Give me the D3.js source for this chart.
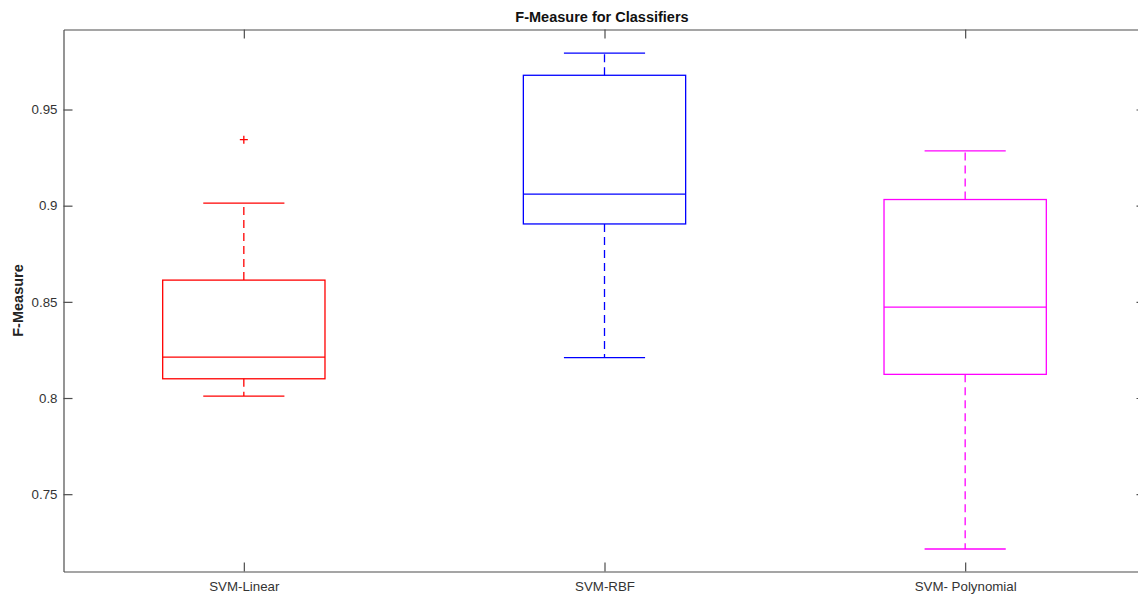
<!DOCTYPE html>
<html>
<head>
<meta charset="utf-8">
<script src="https://cdn.jsdelivr.net/npm/d3@7"></script>
<style>
  body { margin: 0; background: #fff; }
  text { font-family: "Liberation Sans", Arial, sans-serif; }
</style>
</head>
<body>
<div id="chart"></div>
<script>
// classifier names and box stats
var classifiers = ["SVM-Linear", "SVM-RBF", "SVM- Polynomial"];
var whiskerLow = [0.801, 0.821, 0.7215];
var q1 = [0.810, 0.8905, 0.8123];
var medians = [0.8213, 0.906, 0.8473];
var q3 = [0.8613, 0.9678, 0.9032];
var whiskerHigh = [0.9013, 0.9793, 0.9285];
var outliers = [[0.9343], [], []];
var boxColors = ["#ff0000", "#0000ff", "#ff00ff"];
var yTicks = [0.75, 0.8, 0.85, 0.9, 0.95];

var w = 1138;
var h = 596;
// plot box edges (the right edge falls just off the window, as in the picture)
var plotLeft = 63.5, plotTop = 29.5, plotBottom = 571.5, plotRight = 1145.5;

var svg = d3.select("#chart")
    .append("svg")
    .attr("width", w)
    .attr("height", h);

var xScale = d3.scaleLinear()
    .domain([0.5, 3.5])
    .range([plotLeft, plotRight]);

var yScale = d3.scaleLinear()
    .domain([0.7098, 0.9916])
    .range([plotBottom, plotTop]);

var boxHalf = xScale(1.225) - xScale(1);
var capHalf = boxHalf / 2;

// title
svg.append("text")
    .attr("x", 602)
    .attr("y", 22)
    .attr("text-anchor", "middle")
    .attr("font-size", "14.5px")
    .attr("font-weight", "bold")
    .attr("fill", "#111")
    .text("F-Measure for Classifiers");

// y label
svg.append("text")
    .attr("transform", "translate(23," + ((plotTop + plotBottom) / 2) + ") rotate(-90)")
    .attr("text-anchor", "middle")
    .attr("font-size", "14.5px")
    .attr("font-weight", "bold")
    .attr("fill", "#222")
    .text("F-Measure");

// axes (box on, ticks inward)
var axisColor = "#4d4d4d";
var tickLen = 9;

var yLeft = d3.axisLeft(yScale)
    .tickValues(yTicks)
    .tickFormat(function (d) { return String(+d.toFixed(2)); })
    .tickSizeInner(-tickLen)
    .tickSizeOuter(0)
    .tickPadding(6);

svg.append("g")
    .attr("class", "y axis")
    .attr("transform", "translate(" + plotLeft + ",0)")
    .call(yLeft);

var yRight = d3.axisRight(yScale)
    .tickValues(yTicks)
    .tickFormat("")
    .tickSizeInner(-tickLen)
    .tickSizeOuter(0);

svg.append("g")
    .attr("class", "y axis")
    .attr("transform", "translate(" + plotRight + ",0)")
    .call(yRight);

var xBottom = d3.axisBottom(xScale)
    .tickValues([1, 2, 3])
    .tickFormat(function (d) { return classifiers[d - 1]; })
    .tickSizeInner(-tickLen)
    .tickSizeOuter(0)
    .tickPadding(10);

svg.append("g")
    .attr("class", "x axis")
    .attr("transform", "translate(0," + plotBottom + ")")
    .call(xBottom);

var xTop = d3.axisTop(xScale)
    .tickValues([1, 2, 3])
    .tickFormat("")
    .tickSizeInner(-tickLen)
    .tickSizeOuter(0);

svg.append("g")
    .attr("class", "x axis")
    .attr("transform", "translate(0," + plotTop + ")")
    .call(xTop);

svg.selectAll(".axis path, .axis line")
    .attr("stroke", axisColor)
    .attr("stroke-width", 1.2);

svg.selectAll(".axis text")
    .attr("font-size", "13.3px")
    .attr("fill", "#333")
    .attr("font-family", "Liberation Sans, Arial, sans-serif");

// boxes
var boxes = classifiers.map(function (name, i) {
    return {
        idx: i + 1,
        lo: whiskerLow[i], q1: q1[i], med: medians[i], q3: q3[i], hi: whiskerHigh[i],
        out: outliers[i], color: boxColors[i]
    };
});

var g = svg.selectAll("g.box")
    .data(boxes)
    .enter()
    .append("g")
    .attr("class", "box")
    .attr("stroke", function (d) { return d.color; })
    .attr("stroke-width", 1.3)
    .attr("fill", "none");

// dashed whiskers
g.append("line")
    .attr("x1", function (d) { return xScale(d.idx); })
    .attr("x2", function (d) { return xScale(d.idx); })
    .attr("y1", function (d) { return yScale(d.q3); })
    .attr("y2", function (d) { return yScale(d.hi); })
    .attr("stroke-dasharray", "8,5");

g.append("line")
    .attr("x1", function (d) { return xScale(d.idx); })
    .attr("x2", function (d) { return xScale(d.idx); })
    .attr("y1", function (d) { return yScale(d.q1); })
    .attr("y2", function (d) { return yScale(d.lo); })
    .attr("stroke-dasharray", "8,5");

// caps
["hi", "lo"].forEach(function (k) {
    g.append("line")
        .attr("x1", function (d) { return xScale(d.idx) - capHalf; })
        .attr("x2", function (d) { return xScale(d.idx) + capHalf; })
        .attr("y1", function (d) { return yScale(d[k]); })
        .attr("y2", function (d) { return yScale(d[k]); });
});

// box
g.append("rect")
    .attr("x", function (d) { return xScale(d.idx) - boxHalf; })
    .attr("width", boxHalf * 2)
    .attr("y", function (d) { return yScale(d.q3); })
    .attr("height", function (d) { return yScale(d.q1) - yScale(d.q3); });

// median
g.append("line")
    .attr("x1", function (d) { return xScale(d.idx) - boxHalf; })
    .attr("x2", function (d) { return xScale(d.idx) + boxHalf; })
    .attr("y1", function (d) { return yScale(d.med); })
    .attr("y2", function (d) { return yScale(d.med); });

// outliers as + marks
g.each(function (d) {
    var sel = d3.select(this);
    d.out.forEach(function (v) {
        var cx = xScale(d.idx), cy = yScale(v);
        sel.append("path")
            .attr("d", "M" + (cx - 4) + "," + cy + "H" + (cx + 4) + "M" + cx + "," + (cy - 4) + "V" + (cy + 4))
            .attr("stroke-width", 1.3);
    });
});
</script>
</body>
</html>
